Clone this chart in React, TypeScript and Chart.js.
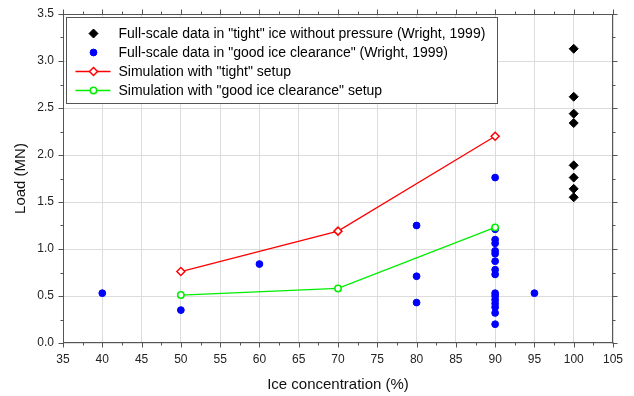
import React, { useEffect, useRef } from "react";
import { Chart, registerables } from "chart.js";

Chart.register(...registerables);

// ---- data ----
const tightFullX = [100, 100, 100, 100, 100, 100, 100, 100];
const tightFullY = [3.13, 2.62, 2.44, 2.34, 1.89, 1.76, 1.64, 1.55];

const goodFullX = [40, 50, 60, 80, 80, 80, 90, 90, 90, 90, 90, 90, 90, 90, 90, 90, 90, 90, 90, 90, 90, 90, 95];
const goodFullY = [0.53, 0.35, 0.84, 1.25, 0.71, 0.43, 1.76, 1.21, 1.1, 1.06, 0.98, 0.95, 0.87, 0.78, 0.73, 0.53, 0.5, 0.46, 0.42, 0.38, 0.32, 0.2, 0.53];

const simTightX = [50, 70, 90];
const simTightY = [0.76, 1.19, 2.2];

const simGoodX = [50, 70, 90];
const simGoodY = [0.51, 0.58, 1.23];

const seriesLabels = [
  'Full-scale data in "tight" ice without pressure (Wright, 1999)',
  'Full-scale data in "good ice clearance" (Wright, 1999)',
  'Simulation with "tight" setup',
  'Simulation with "good ice clearance" setup',
];

const xTitle = "Ice concentration (%)";
const yTitle = "Load (MN)";

const FONT = "'Liberation Sans', Arial, sans-serif";
const AXIS_COLOR = "#555555";

const pts = (xs: number[], ys: number[]) => xs.map((x, i) => ({ x, y: ys[i] }));

function drawMarker(ctx: CanvasRenderingContext2D, ds: any, x: number, y: number) {
  const r = ds.pointRadius;
  ctx.beginPath();
  if (ds.pointStyle === "rectRot") {
    ctx.moveTo(x, y - r);
    ctx.lineTo(x + r, y);
    ctx.lineTo(x, y + r);
    ctx.lineTo(x - r, y);
    ctx.closePath();
  } else {
    ctx.arc(x, y, r, 0, Math.PI * 2);
  }
  ctx.fillStyle = ds.pointBackgroundColor;
  ctx.fill();
  ctx.lineWidth = ds.pointBorderWidth;
  ctx.strokeStyle = ds.pointBorderColor;
  ctx.stroke();
}

const framePlugin = {
  id: "frameAndLegend",
  afterDraw(chart: any) {
    const ctx: CanvasRenderingContext2D = chart.ctx;
    const { left, right, top, bottom } = chart.chartArea;
    const xs = chart.scales.x;
    const ys = chart.scales.y;
    ctx.save();
    ctx.strokeStyle = AXIS_COLOR;
    ctx.lineWidth = 1;
    const L = Math.round(left) + 0.5;
    const R = Math.round(right) - 0.5;
    const T = Math.round(top) + 0.5;
    const B = Math.round(bottom) - 0.5;
    ctx.strokeRect(L, T, R - L, B - T);

    const xv = xs.ticks.map((t: any) => t.value);
    const yv = ys.ticks.map((t: any) => t.value);
    ctx.beginPath();
    const xTick = (v: number, len: number) => {
      const p = Math.round(xs.getPixelForValue(v)) + 0.5;
      ctx.moveTo(p, B);
      ctx.lineTo(p, B + len);
      ctx.moveTo(p, T);
      ctx.lineTo(p, T - len);
    };
    const yTick = (v: number, len: number) => {
      const p = Math.round(ys.getPixelForValue(v)) + 0.5;
      ctx.moveTo(L, p);
      ctx.lineTo(L - len, p);
      ctx.moveTo(R, p);
      ctx.lineTo(R + len, p);
    };
    xv.forEach((v: number, i: number) => {
      xTick(v, 5);
      if (i < xv.length - 1) xTick((v + xv[i + 1]) / 2, 3);
    });
    yv.forEach((v: number, i: number) => {
      yTick(v, 5);
      if (i < yv.length - 1) yTick((v + yv[i + 1]) / 2, 3);
    });
    ctx.stroke();

    // legend box
    const bx = L + 3;
    const by = T + 3;
    const bw = 431;
    const bh = 86;
    ctx.fillStyle = "#ffffff";
    ctx.fillRect(bx, by, bw, bh);
    ctx.strokeStyle = AXIS_COLOR;
    ctx.strokeRect(bx, by, bw, bh);

    ctx.font = `14px ${FONT}`;
    ctx.textBaseline = "middle";
    ctx.textAlign = "left";
    chart.data.datasets.forEach((ds: any, i: number) => {
      const cy = by + 16 + i * 19;
      const mx = bx + 27;
      if (ds.showLine) {
        ctx.beginPath();
        ctx.strokeStyle = ds.borderColor;
        ctx.lineWidth = ds.borderWidth;
        ctx.moveTo(mx - 18, cy);
        ctx.lineTo(mx + 17, cy);
        ctx.stroke();
      }
      drawMarker(ctx, ds, mx, cy);
      ctx.fillStyle = "#000000";
      ctx.fillText(ds.label, bx + 52, cy + 0.5);
    });
    ctx.restore();
  },
};

export default function App() {
  const ref = useRef<HTMLCanvasElement>(null);
  useEffect(() => {
    const canvas = ref.current;
    if (!canvas) return;
    const chart = new Chart(canvas, {
      type: "scatter",
      data: {
        datasets: [
          {
            label: seriesLabels[0],
            data: pts(tightFullX, tightFullY),
            pointStyle: "rectRot",
            pointRadius: 4.5,
            pointBackgroundColor: "#000000",
            pointBorderColor: "#000000",
            pointBorderWidth: 1,
            showLine: false,
            order: 3,
          },
          {
            label: seriesLabels[1],
            data: pts(goodFullX, goodFullY),
            pointStyle: "circle",
            pointRadius: 3.4,
            pointBackgroundColor: "#0000ff",
            pointBorderColor: "#0000ff",
            pointBorderWidth: 1,
            showLine: false,
            order: 2,
          },
          {
            label: seriesLabels[2],
            data: pts(simTightX, simTightY),
            pointStyle: "rectRot",
            pointRadius: 4,
            pointBackgroundColor: "#ffffff",
            pointBorderColor: "#ff0000",
            pointBorderWidth: 1.5,
            borderColor: "#ff0000",
            borderWidth: 1.3,
            showLine: true,
            order: 1,
          },
          {
            label: seriesLabels[3],
            data: pts(simGoodX, simGoodY),
            pointStyle: "circle",
            pointRadius: 3.2,
            pointBackgroundColor: "#ffffff",
            pointBorderColor: "#00ee00",
            pointBorderWidth: 1.5,
            borderColor: "#00ee00",
            borderWidth: 1.3,
            showLine: true,
            order: 0,
          },
        ],
      },
      options: {
        responsive: false,
        animation: false,
        layout: { padding: { left: 0, right: 21, top: 14, bottom: 0 } },
        plugins: { legend: { display: false }, tooltip: { enabled: false } },
        scales: {
          x: {
            type: "linear",
            min: 35,
            max: 105,
            grid: { color: "#dcdcdc", drawTicks: false },
            border: { display: false },
            ticks: {
              stepSize: 5,
              autoSkip: false,
              maxRotation: 0,
              padding: 9,
              color: "#222222",
              font: { family: FONT, size: 12 },
            },
            title: {
              display: true,
              text: xTitle,
              color: "#111111",
              font: { family: FONT, size: 15 },
              padding: { top: 0, bottom: 2 },
            },
            afterFit: (s: any) => {
              s.height = 53;
              s.paddingLeft = 0;
              s.paddingRight = 0;
            },
          },
          y: {
            type: "linear",
            min: 0,
            max: 3.5,
            grid: { color: "#dcdcdc", drawTicks: false },
            border: { display: false },
            ticks: {
              stepSize: 0.5,
              padding: 9,
              color: "#222222",
              font: { family: FONT, size: 12 },
              callback: (v: any) => Number(v).toFixed(1),
            },
            title: {
              display: true,
              text: yTitle,
              color: "#111111",
              font: { family: FONT, size: 15 },
              padding: { top: 12, bottom: 0 },
            },
            afterFit: (s: any) => {
              s.width = 63;
              s.paddingTop = 0;
              s.paddingBottom = 0;
            },
          },
        },
      },
      plugins: [framePlugin],
    });
    return () => chart.destroy();
  }, []);
  return (
    <div style={{ position: "fixed", left: 0, top: 0, width: 634, height: 396, background: "#fff" }}>
      <canvas ref={ref} width={634} height={396} />
    </div>
  );
}
